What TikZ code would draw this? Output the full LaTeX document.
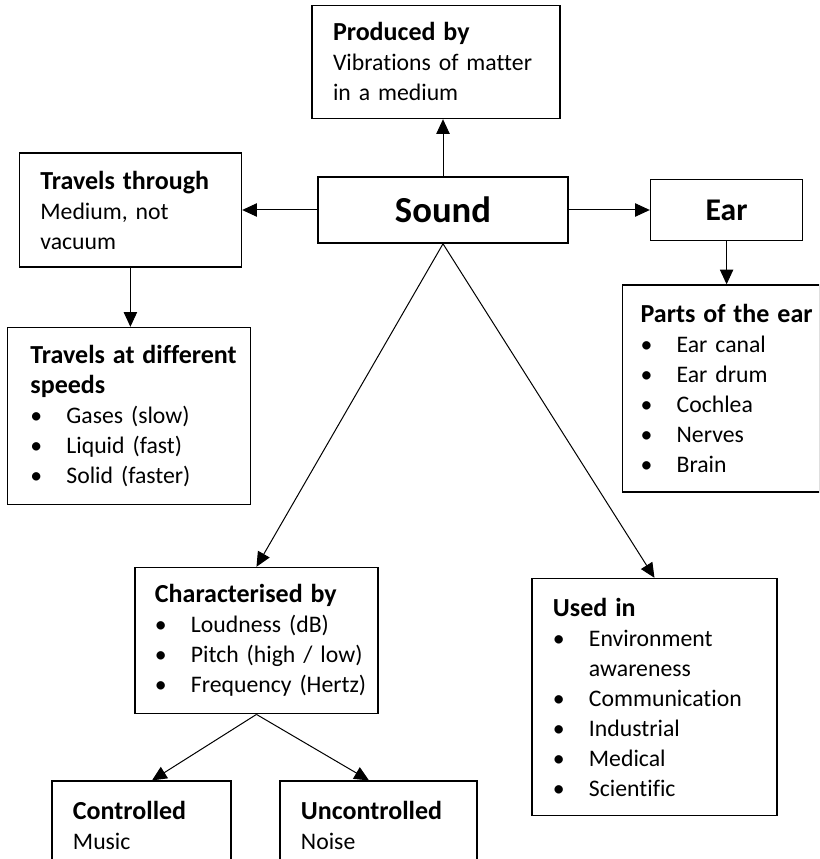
\documentclass[tikz,border=0pt]{standalone}
\usepackage{fontspec}
\setmainfont{Carlito}[Ligatures=NoCommon]
\usetikzlibrary{positioning,arrows.meta}
\tikzset{
  box/.style={draw,rectangle,line width=1.2pt,align=left,inner xsep=15.75pt,inner ysep=0pt,
    font=\fontsize{17.8}{22.5}\selectfont},
  arr/.style={-{Triangle[length=11pt,width=10pt]},line width=0.75pt}
}
\newcommand{\itm}{\makebox[27pt][l]{\textbullet}}
\newcommand{\hd}[1]{\mbox{\fontsize{19.5}{22.5}\selectfont\bfseries #1}}

\begin{document}
\begin{tikzpicture}[node distance=40pt]
\clip (0,0) rectangle (614.25pt,-644.25pt);
\node[box,align=center,inner xsep=0pt,minimum width=187.5pt,minimum height=49.5pt,
  font=\fontsize{27.5}{30}\selectfont\bfseries] (sound) at (332.25pt,-157.5pt) {Sound};

\node[box,text width=154.5pt,minimum height=84.75pt,above=42.75pt of sound,xshift=-5.25pt] (produced) {
\hd{Produced by}\\
Vibrations~of~matter\\
in~a~medium
};

\node[box,text width=135pt,minimum height=85.5pt,left=56.25pt of sound] (through) {
\hd{Travels through}\\
Medium,~not\\
vacuum
};

\node[box,text width=147.75pt,inner xsep=17.25pt,minimum height=132.75pt,below=44.25pt of through,xshift=-1.1pt] (speeds) {
\hd{Travels at different}\\
\hd{speeds}\\
\itm Gases~(slow)\\
\itm Liquid~(fast)\\
\itm Solid~(faster)
};

\node[box,align=center,inner xsep=0pt,minimum width=114pt,minimum height=45.75pt,right=60.75pt of sound,
  font=\fontsize{23.7}{26}\selectfont\bfseries] (ear) {Ear};

\node[box,text width=120.75pt,inner xsep=13.5pt,minimum height=155.25pt,below=32.25pt of ear,xshift=-4.1pt] (parts) {
\hd{Parts of the ear}\\
\itm Ear~canal\\
\itm Ear~drum\\
\itm Cochlea\\
\itm Nerves\\
\itm Brain
};

\node[box,text width=152.25pt,inner xsep=15pt,minimum height=109.5pt,below=242.25pt of sound,xshift=-139.9pt] (charact) {
\hd{Characterised by}\\
\itm Loudness~(dB)\\
\itm Pitch~(high~/~low)\\
\itm Frequency~(Hertz)
};

\node[box,text width=152.25pt,minimum height=177.75pt,below=250.5pt of sound,xshift=158.6pt] (usedin) {
\hd{Used in}\\
\itm Environment\\
\hspace*{27pt}awareness\\
\itm Communication\\
\itm Industrial\\
\itm Medical\\
\itm Scientific
};

\node[box,text width=102.75pt,minimum height=66pt,below=49.5pt of charact,xshift=-86.25pt] (controlled) {
\hd{Controlled}\\
Music
};

\node[box,text width=116.25pt,minimum height=66pt,below=49.5pt of charact,xshift=91.5pt] (uncontrolled) {
\hd{Uncontrolled}\\
Noise
};

\draw[arr] (sound.north) -- (sound.north |- produced.south);
\draw[arr] (sound.west) -- (through.east);
\draw[arr] (sound.east) -- (ear.west);
\draw[arr] (through.south) -- (through.south |- speeds.north);
\draw[arr] (ear.south) -- (ear.south |- parts.north);
\draw[arr] (sound.south) -- (charact.north);
\draw[arr] (sound.south) -- (usedin.north);
\draw[arr] (charact.south) -- ([xshift=7.9pt]controlled.north);
\draw[arr] (charact.south) -- ([xshift=-7.1pt]uncontrolled.north);
\end{tikzpicture}
\end{document}
